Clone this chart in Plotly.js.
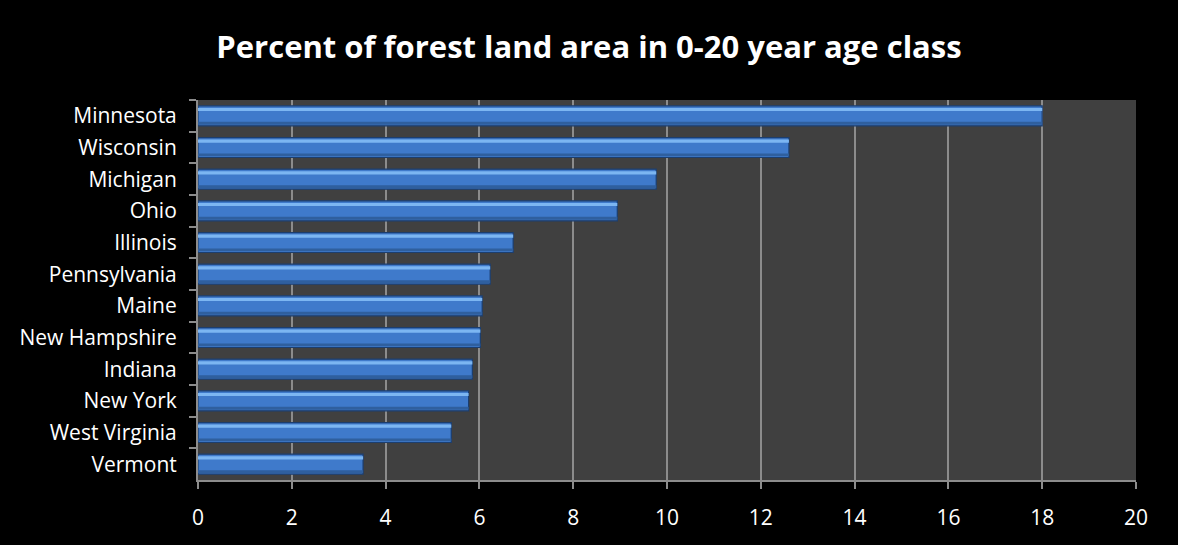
<!DOCTYPE html>
<html>
<head>
<meta charset="utf-8">
<script src="https://cdn.plot.ly/plotly-3.0.1.min.js"></script>
<style>
  html, body { margin: 0; padding: 0; background: #000; }
  #chart { width: 1178px; height: 545px; }
</style>
</head>
<body>
<div id="chart"></div>
<script>
const states = ["Minnesota", "Wisconsin", "Michigan", "Ohio", "Illinois", "Pennsylvania",
  "Maine", "New Hampshire", "Indiana", "New York", "West Virginia", "Vermont"];
const percentYoung = [18.0, 12.6, 9.77, 8.94, 6.72, 6.23, 6.06, 6.02, 5.85, 5.77, 5.40, 3.52];
const xTicks = [0, 2, 4, 6, 8, 10, 12, 14, 16, 18, 20];
const chartTitle = "Percent of forest land area in 0-20 year age class";

const font = "Open Sans, Noto Sans, sans-serif";

const traces = [
  {
    type: "bar", orientation: "h", x: percentYoung, y: states,
    width: 0.63, offset: -0.315,
    marker: { color: "#3f7acb", line: { color: "#1c3e6e", width: 1.2 } },
    hoverinfo: "x+y"
  },
  {
    type: "bar", orientation: "h", x: percentYoung, y: states,
    width: 0.1, offset: -0.25,
    marker: { color: "#7cb6f2", line: { width: 0 } },
    hoverinfo: "skip"
  },
  {
    type: "bar", orientation: "h", x: percentYoung, y: states,
    width: 0.09, offset: 0.19,
    marker: { color: "#2f5f9e", line: { width: 0 } },
    hoverinfo: "skip"
  }
];

const layout = {
  width: 1178, height: 545,
  paper_bgcolor: "#000000",
  plot_bgcolor: "#404040",
  showlegend: false,
  barmode: "overlay",
  margin: { l: 198, r: 42, t: 100, b: 65 },
  title: {
    text: chartTitle,
    font: { family: font, size: 31, color: "#ffffff", weight: "bold" },
    x: 0.5, xanchor: "center", y: 0.913, yanchor: "middle"
  },
  xaxis: {
    range: [0, 20],
    tickvals: xTicks,
    ticktext: xTicks.map(String),
    showgrid: true, gridcolor: "#8c8c8c", gridwidth: 2,
    zeroline: false,
    showline: true, linecolor: "#8c8c8c", linewidth: 2,
    ticks: "outside", ticklen: 7, tickcolor: "#8c8c8c", tickwidth: 2,
    tickfont: { family: font, size: 21, color: "#ffffff" },
    ticklabelstandoff: 11,
    fixedrange: true
  },
  yaxis: {
    type: "category",
    categoryorder: "array", categoryarray: states,
    autorange: "reversed",
    showgrid: false, zeroline: false,
    showline: true, linecolor: "#8c8c8c", linewidth: 2,
    ticks: "outside", tickson: "boundaries", ticklen: 7, tickcolor: "#8c8c8c", tickwidth: 2,
    tickfont: { family: font, size: 21, color: "#ffffff" },
    ticklabelstandoff: 15,
    fixedrange: true
  }
};

Plotly.newPlot("chart", traces, layout, { displayModeBar: false, staticPlot: true });
</script>
</body>
</html>
